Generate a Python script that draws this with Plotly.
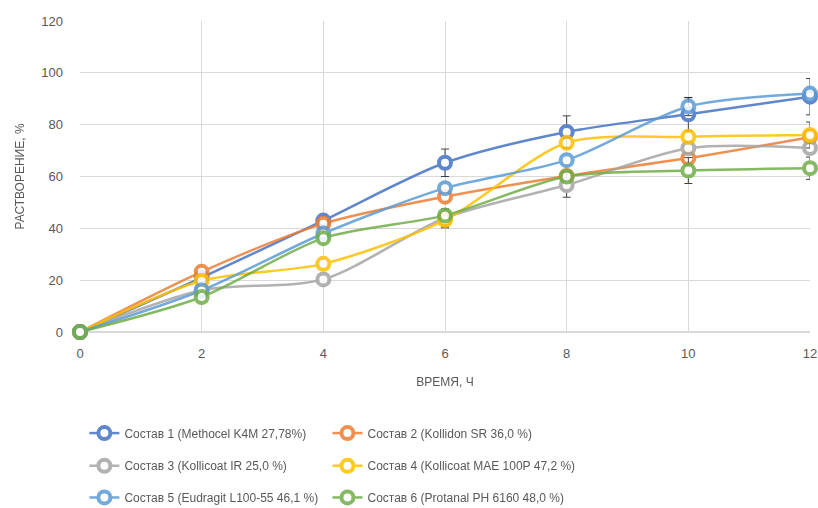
import plotly.graph_objects as go

time_h = [0, 2, 4, 6, 8, 10, 12]

names = [
    "Состав 1 (Methocel K4M 27,78%)",
    "Состав 2 (Kollidon SR 36,0 %)",
    "Состав 3 (Kollicoat IR 25,0 %)",
    "Состав 4 (Kollicoat MAE 100P 47,2 %)",
    "Состав 5 (Eudragit L100-55 46,1 %)",
    "Состав 6 (Protanal PH 6160 48,0 %)",
]

s1 = [0, 21, 43, 65.3, 77.2, 84, 90.8]
s2 = [0, 23.2, 41.8, 52.2, 60.2, 67.1, 75.2]
s3 = [0, 16.1, 20.3, 44, 56.7, 70.9, 71]
s4 = [0, 19.8, 26.3, 43.2, 73, 75.3, 76]
s5 = [0, 16, 38, 55.5, 66.3, 87, 92]
s6 = [0, 13.5, 36.2, 45, 60, 62.3, 63.2]

e1 = [0, 0, 1.5, 5.3, 6.2, 6.4, 7]
e2 = [0, 0, 0, 0, 0, 0, 0]
e3 = [0, 0, 0, 3.5, 4.7, 0, 0]
e4 = [0, 0, 0, 3, 0, 0, 5]
e5 = [0, 0, 0, 0, 0, 3.5, 0]
e6 = [0, 0, 0, 0, 0, 5, 4.3]

series = [s1, s2, s3, s4, s5, s6]
errors = [e1, e2, e3, e4, e5, e6]
colors = ["#4472C4", "#ED7D31", "#A5A5A5", "#FFC000", "#5B9BD5", "#70AD47"]
legend_ids = ["legend", "legend2", "legend3", "legend4", "legend5", "legend6"]
legend_x = [0.006, 0.339, 0.006, 0.339, 0.006, 0.339]
legend_y = [-0.325, -0.325, -0.43, -0.43, -0.532, -0.532]

FONT = "Liberation Sans, Arial, sans-serif"
GRAY = "#595959"

fig = go.Figure()
for name, ys, err, col, lg in zip(names, series, errors, colors, legend_ids):
    fig.add_trace(go.Scatter(
        x=time_h, y=ys, name=name, mode="lines+markers",
        line=dict(color=col, width=2.5, shape="spline", smoothing=0.8),
        marker=dict(symbol="circle", size=12, color="white",
                    line=dict(color=col, width=4)),
        error_y=dict(type="data", array=err, visible=True,
                     color="#222222", thickness=1, width=4),
        cliponaxis=False, legend=lg, opacity=0.85, showlegend=True,
    ))

leg_layout = {}
for lg, lx, ly in zip(legend_ids, legend_x, legend_y):
    leg_layout[lg] = dict(x=lx, y=ly, orientation="v", xanchor="left",
                          yanchor="middle", visible=True,
                          font=dict(family=FONT, size=12, color=GRAY),
                          bgcolor="rgba(0,0,0,0)", itemwidth=30)

fig.update_layout(
    width=818, height=508, showlegend=True,
    margin=dict(l=80, r=8, t=21, b=176, autoexpand=False),
    paper_bgcolor="white", plot_bgcolor="white",
    font=dict(family=FONT, size=13, color=GRAY),
    xaxis=dict(range=[0, 12], tickvals=time_h, showgrid=True,
               gridcolor="#D9D9D9", gridwidth=1, zeroline=False,
               showline=False, ticks="", ticklabelstandoff=12,
               automargin=False,
               title=dict(text="ВРЕМЯ, Ч", font=dict(size=12, color=GRAY),
                          standoff=17),
               tickfont=dict(size=13, color=GRAY)),
    yaxis=dict(range=[0, 120], dtick=20, showgrid=True,
               gridcolor="#D9D9D9", gridwidth=1, zeroline=True,
               zerolinecolor="#D9D9D9", showline=False, ticks="",
               ticklabelstandoff=16, automargin=False,
               title=dict(text="РАСТВОРЕНИЕ, %", font=dict(size=12, color=GRAY),
                          standoff=14),
               tickfont=dict(size=13, color=GRAY)),
    **leg_layout,
)

fig.write_html("out.html", config={"displayModeBar": False},
               post_script="document.body.style.margin='0px';document.body.style.overflow='hidden';")
